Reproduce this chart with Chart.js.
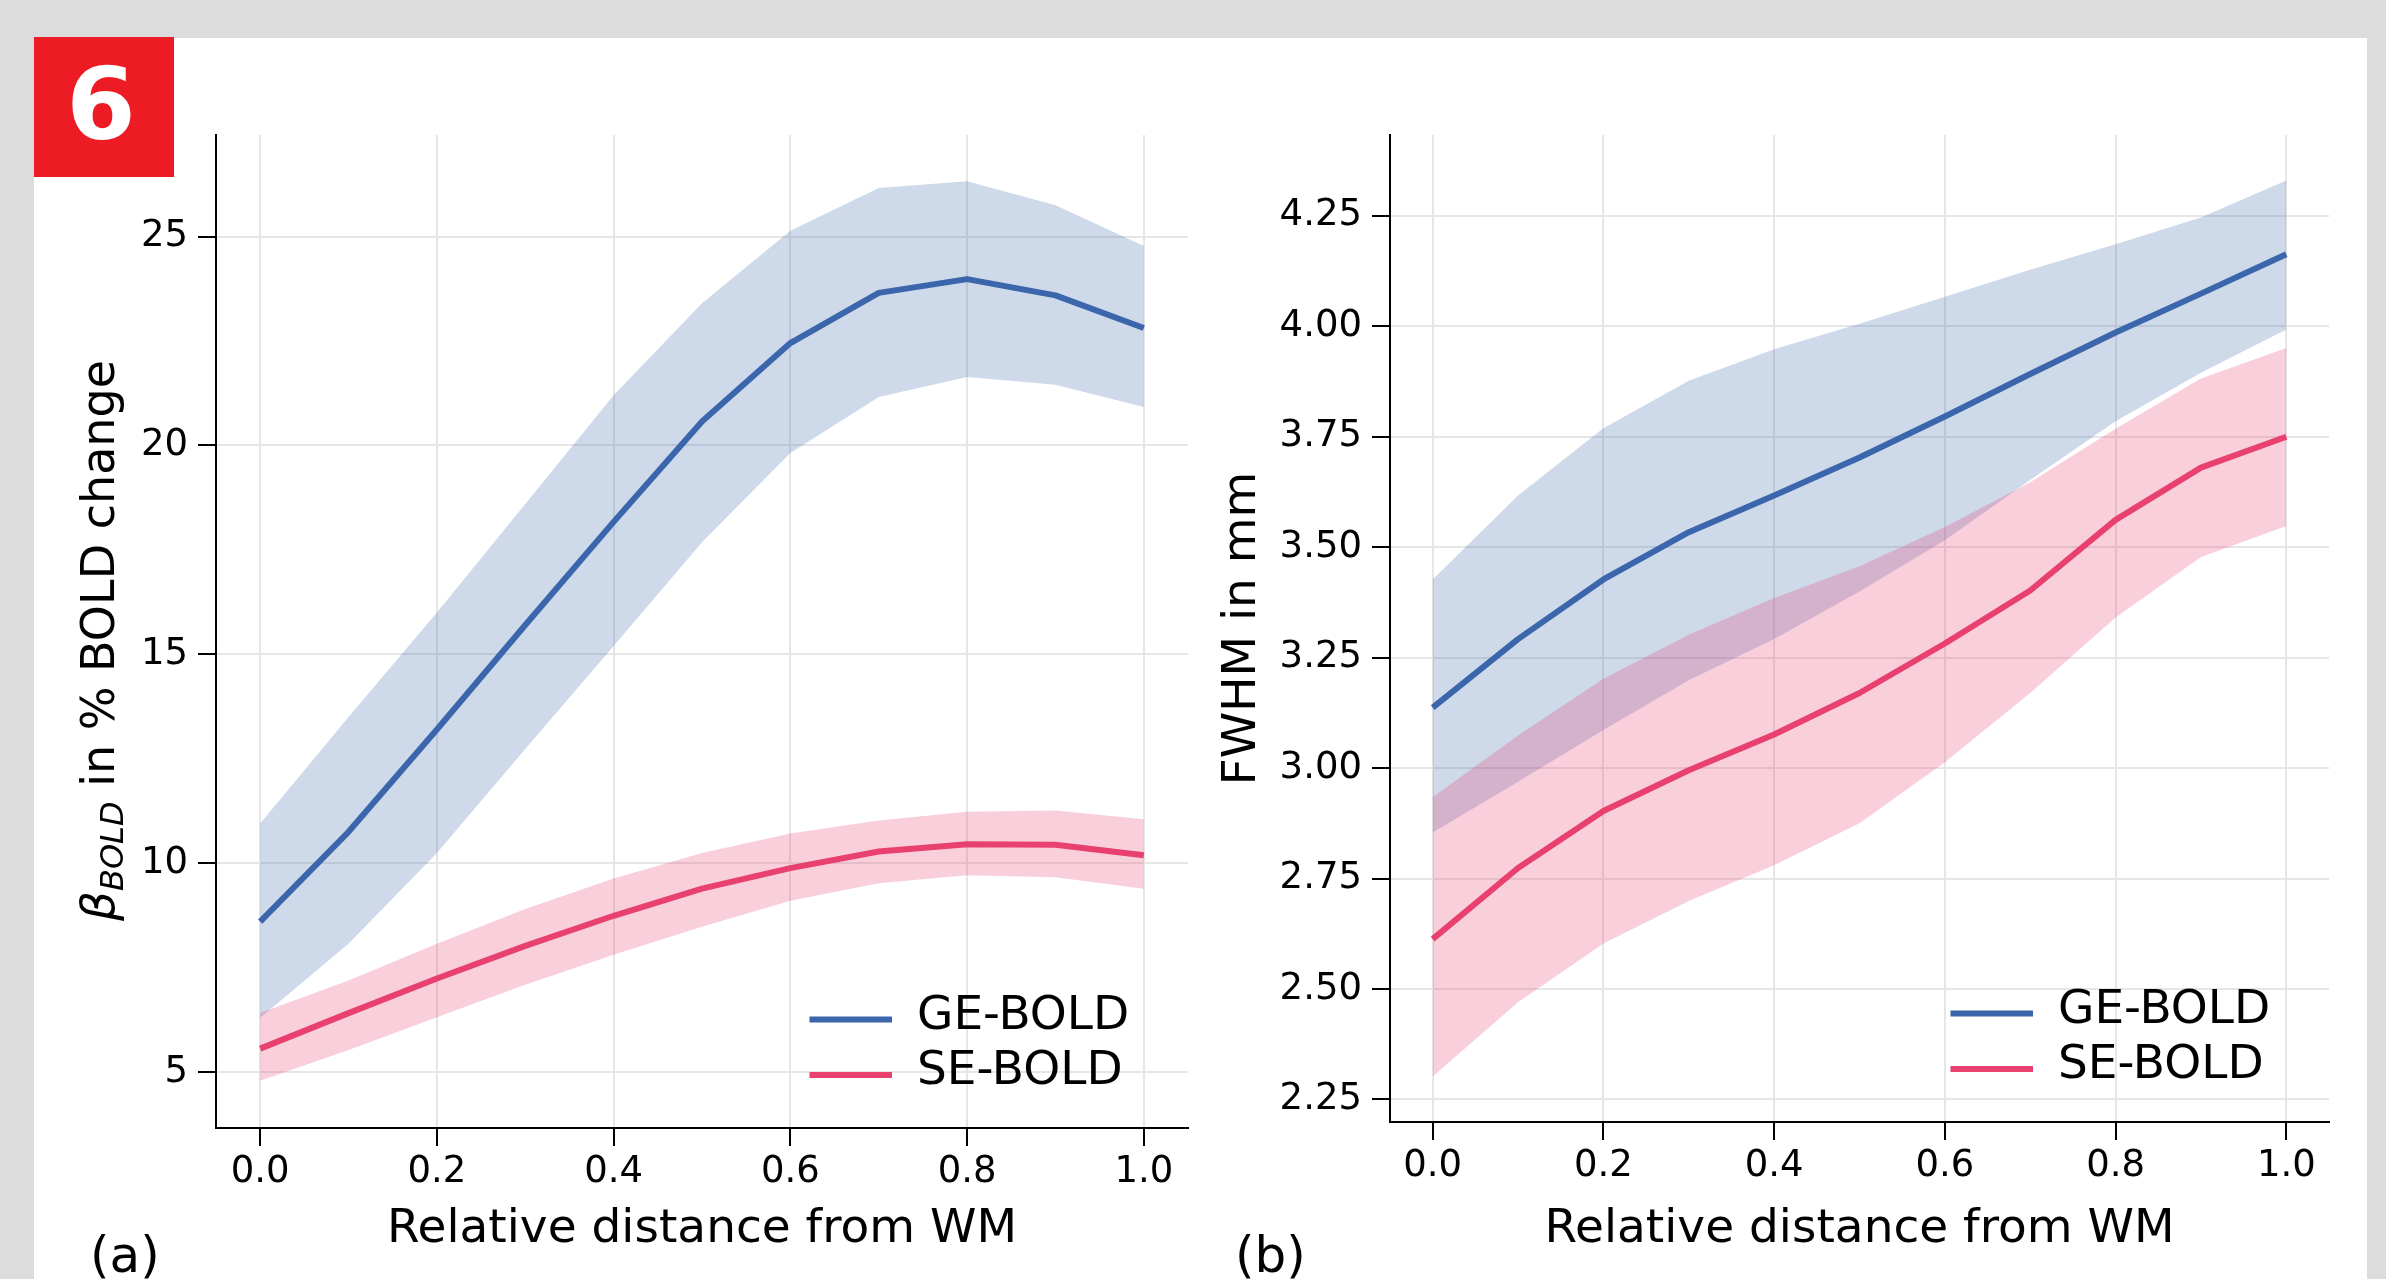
<!DOCTYPE html>
<html>
<head>
<meta charset="utf-8">
<script src="https://cdn.jsdelivr.net/npm/chart.js@4.4.0/dist/chart.umd.min.js"></script>
<style>
  html, body { margin:0; padding:0; width:2386px; height:1279px; overflow:hidden; background:#dcdcdc; font-family:"DejaVu Sans"; }
  #panel { position:absolute; left:34px; top:38px; width:2333px; height:1300px; background:#ffffff; }
  #badge { position:absolute; left:34px; top:37px; width:140px; height:140px; background:#ed1c24; color:#fff;
           font:bold 100px "DejaVu Sans"; line-height:140px; text-align:center; }
  #badge span { position:relative; left:-3px; top:-2px; }
  canvas { position:absolute; top:0; }
  #c1 { left:0px; }
  #c2 { left:1200px; }
  .lab { position:absolute; top:1230px; font:50px "DejaVu Sans"; line-height:50px; color:#000; }
</style>
</head>
<body>
<div id="panel"></div>
<div id="badge"><span>6</span></div>
<canvas id="c1" width="1200" height="1279" style="width:1200px;height:1279px"></canvas>
<canvas id="c2" width="1186" height="1279" style="width:1186px;height:1279px"></canvas>
<div class="lab" style="left:90px">(a)</div>
<div class="lab" style="left:1235px">(b)</div>
<script>
// ---- data ----
const xValues = [0.0, 0.1, 0.2, 0.3, 0.4, 0.5, 0.6, 0.7, 0.8, 0.9, 1.0];
const seriesLabels = ['GE-BOLD', 'SE-BOLD'];

// Panel (a): beta_BOLD in % BOLD change
const geMeanA  = [8.6, 10.75, 13.2, 15.7, 18.17, 20.57, 22.45, 23.65, 23.98, 23.59, 22.81];
const geUpperA = [10.95, 13.5, 16.0, 18.6, 21.2, 23.4, 25.14, 26.16, 26.32, 25.75, 24.77];
const geLowerA = [6.3, 8.07, 10.24, 12.73, 15.2, 17.68, 19.82, 21.16, 21.64, 21.45, 20.92];
const seMeanA  = [5.56, 6.41, 7.24, 8.02, 8.74, 9.39, 9.88, 10.28, 10.45, 10.44, 10.19];
const seUpperA = [6.41, 7.19, 8.07, 8.9, 9.63, 10.24, 10.71, 11.02, 11.23, 11.26, 11.05];
const seLowerA = [4.79, 5.53, 6.31, 7.09, 7.81, 8.48, 9.1, 9.52, 9.71, 9.66, 9.39];

// Panel (b): FWHM in mm
const geMeanB  = [3.137, 3.292, 3.427, 3.534, 3.617, 3.703, 3.796, 3.892, 3.986, 4.074, 4.163];
const geUpperB = [3.427, 3.617, 3.769, 3.877, 3.948, 4.006, 4.067, 4.128, 4.186, 4.246, 4.33];
const geLowerB = [2.854, 2.969, 3.086, 3.199, 3.292, 3.40, 3.516, 3.652, 3.785, 3.895, 3.993];
const seMeanB  = [2.613, 2.774, 2.903, 2.995, 3.076, 3.17, 3.282, 3.402, 3.562, 3.68, 3.75];
const seUpperB = [2.934, 3.074, 3.202, 3.302, 3.385, 3.457, 3.546, 3.647, 3.768, 3.882, 3.951];
const seLowerB = [2.302, 2.47, 2.603, 2.699, 2.78, 2.875, 3.013, 3.17, 3.341, 3.478, 3.548];

// ticks
const xTicks = [0.0, 0.2, 0.4, 0.6, 0.8, 1.0];
const yTicksA = [5, 10, 15, 20, 25];
const yTicksB = [2.25, 2.50, 2.75, 3.00, 3.25, 3.50, 3.75, 4.00, 4.25];

// ---- styling ----
const BLUE = '#3b66ac';
const PINK = '#e8416f';
const BLUE_BAND = 'rgba(59,102,172,0.25)';
const PINK_BAND = 'rgba(232,65,111,0.25)';
const FONT = 'DejaVu Sans';
Chart.defaults.font.family = FONT;

function pts(arr) { return xValues.map((x, i) => ({ x: x, y: arr[i] })); }

function datasets(geMean, geUp, geLo, seMean, seUp, seLo) {
  const lineBase = { pointRadius: 0, tension: 0, borderWidth: 6, fill: false, borderJoinStyle: 'round' };
  const bandBase = { pointRadius: 0, tension: 0, borderWidth: 0, borderColor: 'rgba(0,0,0,0)' };
  return [
    Object.assign({ label: seriesLabels[0], data: pts(geMean), borderColor: BLUE }, lineBase),
    Object.assign({ label: seriesLabels[1], data: pts(seMean), borderColor: PINK }, lineBase),
    Object.assign({ label: 'SE upper', data: pts(seUp), backgroundColor: PINK_BAND, fill: '+1' }, bandBase),
    Object.assign({ label: 'SE lower', data: pts(seLo), fill: false }, bandBase),
    Object.assign({ label: 'GE upper', data: pts(geUp), backgroundColor: BLUE_BAND, fill: '+1' }, bandBase),
    Object.assign({ label: 'GE lower', data: pts(geLo), fill: false }, bandBase)
  ];
}

const bandLegend = {
  id: 'bandLegend',
  afterDatasetsDraw(chart) {
    const a = chart.chartArea, ctx = chart.ctx;
    const items = [
      { label: chart.data.datasets[0].label, color: chart.data.datasets[0].borderColor },
      { label: chart.data.datasets[1].label, color: chart.data.datasets[1].borderColor }
    ];
    ctx.save();
    items.forEach((it, i) => {
      const y = a.bottom - 108.5 + i * 55.4;
      ctx.strokeStyle = it.color; ctx.lineWidth = 6; ctx.lineCap = 'butt';
      ctx.beginPath(); ctx.moveTo(a.right - 378.5, y); ctx.lineTo(a.right - 296, y); ctx.stroke();
      ctx.fillStyle = '#000'; ctx.font = '47px "DejaVu Sans"'; ctx.textBaseline = 'middle'; ctx.textAlign = 'left';
      ctx.fillText(it.label, a.right - 271, y - 3);
    });
    ctx.restore();
  }
};

const betaTitle = {
  id: 'betaTitle',
  afterDraw(chart, args, opts) {
    if (!opts || !opts.show) return;
    const a = chart.chartArea, ctx = chart.ctx;
    ctx.save();
    ctx.translate(a.left - 102, (a.top + a.bottom) / 2 + 9);
    ctx.rotate(-Math.PI / 2);
    ctx.fillStyle = '#000';
    ctx.textBaseline = 'alphabetic';
    ctx.textAlign = 'left';
    const fB = 'italic 47px "DejaVu Sans"', fS = 'italic 32px "DejaVu Sans"', fR = '46px "DejaVu Sans"';
    const t1 = '\u03B2', t2 = 'BOLD', t3 = ' in % BOLD change';
    ctx.font = fB; const w1 = ctx.measureText(t1).width;
    ctx.font = fS; const w2 = ctx.measureText(t2).width;
    ctx.font = fR; const w3 = ctx.measureText(t3).width;
    let x = -(w1 + w2 + w3) / 2;
    ctx.font = fB; ctx.fillText(t1, x, 0); x += w1;
    ctx.font = fS; ctx.fillText(t2, x, 9); x += w2;
    ctx.font = fR; ctx.fillText(t3, x, 0);
    ctx.restore();
  }
};

function axisCommon() {
  return {
    grid: { color: '#e6e6e6', lineWidth: 2, tickColor: '#000', tickLength: 18, tickWidth: 2 },
    border: { color: '#000', width: 2 }
  };
}

function makeChart(id, cfg) {
  const x = Object.assign(axisCommon(), {
    type: 'linear', min: -0.05, max: 1.05,
    afterBuildTicks: s => { s.ticks = xTicks.map(v => ({ value: v })); },
    afterFit: s => { s.height = cfg.xHeight; },
    ticks: { font: { family: FONT, size: 37 }, color: '#000', padding: 4, autoSkip: false, maxRotation: 0,
             callback: v => Number(v).toFixed(1) },
    title: { display: true, text: 'Relative distance from WM', color: '#000',
             font: { family: FONT, size: 47 }, padding: { top: 0, bottom: 21 } }
  });
  const y = Object.assign(axisCommon(), {
    type: 'linear', min: cfg.yMin, max: cfg.yMax,
    afterBuildTicks: s => { s.ticks = cfg.yTicks.map(v => ({ value: v })); },
    afterFit: s => { s.width = cfg.yWidth; },
    ticks: { font: { family: FONT, size: 37 }, color: '#000', padding: 10, autoSkip: false,
             callback: cfg.yFmt },
    title: cfg.yTitle ? { display: true, text: cfg.yTitle, color: '#000',
             font: { family: FONT, size: 47 }, padding: { top: 15, bottom: 0 } } : { display: false }
  });
  return new Chart(document.getElementById(id), {
    type: 'line',
    data: { datasets: cfg.datasets },
    options: {
      responsive: false, animation: false, devicePixelRatio: 1,
      layout: { padding: cfg.padding },
      plugins: { legend: { display: false }, tooltip: { enabled: false }, betaTitle: { show: !!cfg.beta } },
      scales: { x: x, y: y }
    },
    plugins: [bandLegend, betaTitle]
  });
}

makeChart('c1', {
  datasets: datasets(geMeanA, geUpperA, geLowerA, seMeanA, seUpperA, seLowerA),
  yMin: 3.66, yMax: 27.43, yTicks: yTicksA, yFmt: v => String(v),
  yWidth: 216, xHeight: 151, padding: { top: 135, right: 12, left: 0, bottom: 0 },
  beta: true
});

makeChart('c2', {
  datasets: datasets(geMeanB, geUpperB, geLowerB, seMeanB, seUpperB, seLowerB),
  yMin: 2.199, yMax: 4.433, yTicks: yTicksB, yFmt: v => Number(v).toFixed(2),
  yWidth: 190, xHeight: 157, padding: { top: 135, right: 57, left: 0, bottom: 0 },
  yTitle: 'FWHM in mm'
});
</script>
</body>
</html>
